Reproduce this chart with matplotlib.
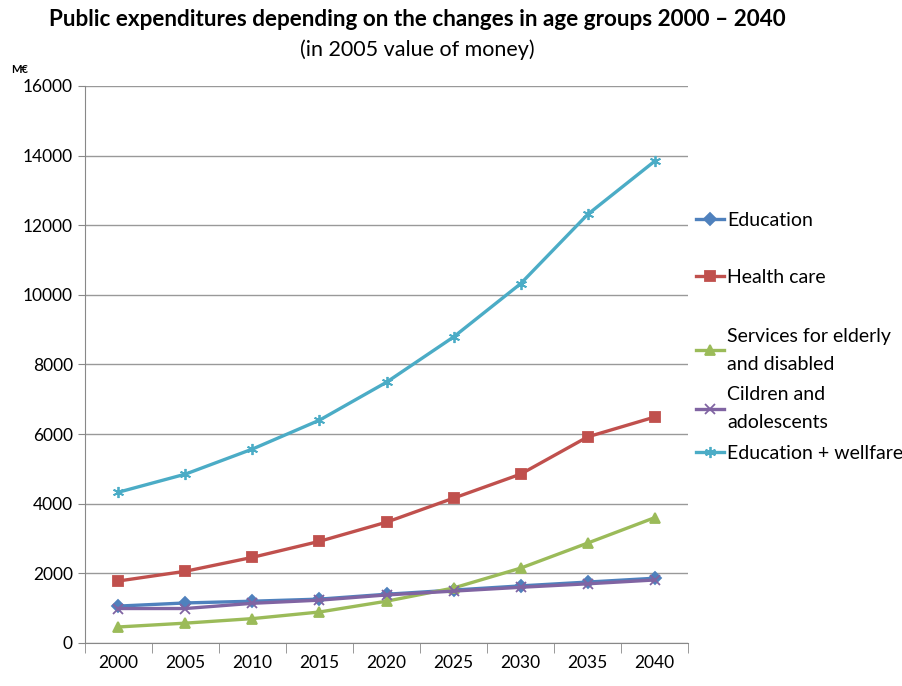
import matplotlib.pyplot as plt
import numpy as np

plt.rcParams['font.family'] = ['Lato', 'DejaVu Sans']

years = ['2000', '2005', '2010', '2015', '2020', '2025', '2030', '2035', '2040']
education = [1060, 1150, 1200, 1260, 1400, 1520, 1640, 1750, 1860]
health_care = [1780, 2060, 2460, 2920, 3470, 4160, 4850, 5920, 6490]
services = [460, 570, 700, 890, 1200, 1580, 2150, 2870, 3600]
children = [990, 990, 1140, 1230, 1380, 1490, 1600, 1700, 1810]
edu_welfare = [4330, 4850, 5570, 6400, 7490, 8790, 10320, 12310, 13840]

series = [
    ('Education', education, '#4F81BD', 'D', 6),
    ('Health care', health_care, '#C0504D', 's', 7),
    ('Services for elderly\nand disabled', services, '#9BBB59', '^', 7),
    ('Cildren and\nadolescents', children, '#8064A2', 'x', 7),
    ('Education + wellfare', edu_welfare, '#4BACC6', (6, 2, 0), 8),
]

fig = plt.figure(figsize=(9.02, 6.86), dpi=100)
ax = fig.add_axes([0.094, 0.0627, 0.669, 0.812])

x = np.arange(len(years))
lines = []
for label, vals, color, marker, ms in series:
    ln, = ax.plot(x, vals, color=color, lw=2.4, marker=marker, ms=ms,
                  mec=color, mfc=color, mew=1.3, label=label)
    lines.append(ln)

ax.set_xlim(-0.5, len(years) - 0.5)
ax.set_ylim(0, 16000)
ax.set_yticks(range(0, 16001, 2000))
ax.set_xticks(x)
ax.set_xticklabels(years)
ax.set_xticks(np.arange(-0.5, len(years)), minor=True)
ax.tick_params(axis='x', which='major', length=0, labelsize=12.5, pad=9)
ax.tick_params(axis='x', which='minor', length=7, color='#888888')
ax.tick_params(axis='y', length=5, labelsize=12.5, color='#888888')
ax.grid(axis='y', color='#999999', lw=1)
ax.set_axisbelow(True)
for s in ['top', 'right']:
    ax.spines[s].set_visible(False)
for s in ['left', 'bottom']:
    ax.spines[s].set_color('#888888')

# legend split in two blocks to mimic the Excel spacing
leg_kw = dict(frameon=False, fontsize=14, handlelength=1.4, handletextpad=0.2,
              borderaxespad=0, borderpad=0, bbox_transform=fig.transFigure)
leg1 = ax.legend(lines[:2], [s[0] for s in series[:2]], loc='center left',
                 bbox_to_anchor=(0.772, 1 - 249 / 686), labelspacing=2.05, **leg_kw)
ax.add_artist(leg1)
leg2 = ax.legend(lines[2:], [s[0] for s in series[2:]], loc='center left',
                 bbox_to_anchor=(0.772, 1 - 395 / 686), labelspacing=0.72, **leg_kw)
for t in leg2.get_texts():
    t.set_linespacing(1.75)

fig.text(0.463, 0.972, 'Public expenditures depending on the changes in age groups 2000 \u2013 2040',
         ha='center', va='center', fontsize=16.2, fontweight='bold')
fig.text(0.463, 0.928, '(in 2005 value of money)', ha='center', va='center', fontsize=15.5)
fig.text(0.012, 0.898, 'M\u20ac', fontsize=8, fontweight='bold', va='center')

fig.savefig('out.png', dpi=100)
